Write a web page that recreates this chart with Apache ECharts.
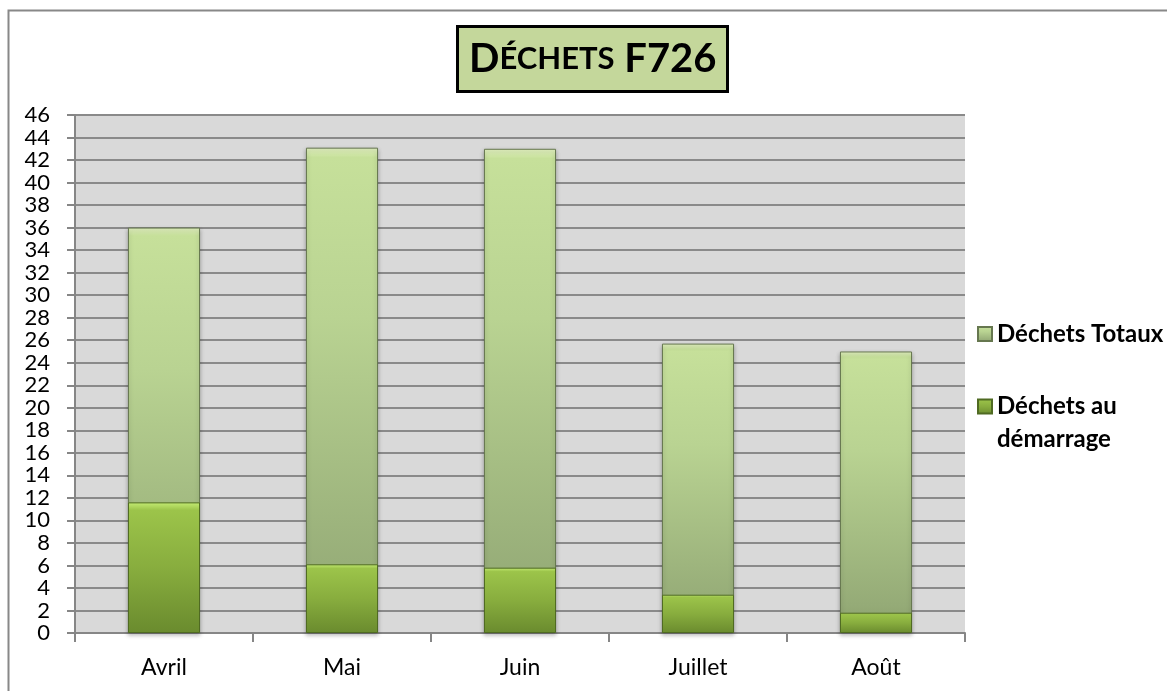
<!DOCTYPE html>
<html>
<head>
<meta charset="utf-8">
<style>
  html, body { margin: 0; padding: 0; background: #fff; }
  #chart { width: 1167px; height: 691px; }
</style>
<script src="https://cdn.jsdelivr.net/npm/echarts@6/dist/echarts.min.js"></script>
</head>
<body>
<div id="chart"></div>
<script>
// données
var months = ['Avril', 'Mai', 'Juin', 'Juillet', 'Août'];
var dechetsTotaux = [36, 43.1, 43, 25.7, 25];
var dechetsDemarrage = [11.6, 6.1, 5.8, 3.4, 1.8];

var FONT = 'Lato';

var chart = echarts.init(document.getElementById('chart'));

chart.setOption({
  animation: false,
  backgroundColor: '#fff',
  textStyle: { fontFamily: FONT },
  title: {
    text: '{a|D}{b|ÉCHETS}{a| F726}',
    left: 457,
    top: 25,
    padding: [13, 11, 13, 12],
    backgroundColor: '#c4d79b',
    borderColor: '#000',
    borderWidth: 3,
    textStyle: {
      rich: {
        a: { fontFamily: FONT, fontWeight: 'bold', fontSize: 40, color: '#000', lineHeight: 42 },
        b: { fontFamily: FONT, fontWeight: 'bold', fontSize: 31, color: '#000', lineHeight: 42 }
      }
    }
  },
  graphic: [{
    type: 'rect',
    z: -10,
    shape: { x: 8.5, y: 10.5, width: 1200, height: 700 },
    style: { fill: 'none', stroke: '#888', lineWidth: 2 }
  }],
  legend: [{
    data: ['Déchets Totaux'],
    orient: 'vertical',
    left: 972,
    top: 314,
    icon: 'rect',
    itemWidth: 14,
    itemHeight: 14,
    textStyle: { fontFamily: FONT, fontWeight: 'bold', fontSize: 24, color: '#000', lineHeight: 30 }
  }, {
    data: ['Déchets au démarrage'],
    orient: 'vertical',
    left: 972,
    top: 352,
    icon: 'rect',
    itemWidth: 14,
    itemHeight: 14,
    // ligne vide en tête pour garder l'icône en face de la première ligne
    formatter: function (name) { return '\n' + name.replace(' au ', ' au\n'); },
    textStyle: { fontFamily: FONT, fontWeight: 'bold', fontSize: 24, color: '#000', lineHeight: 33 }
  }],
  grid: {
    left: 75,
    right: 202,
    top: 115,
    bottom: 58,
    show: true,
    backgroundColor: '#d9d9d9',
    borderWidth: 0
  },
  xAxis: {
    type: 'category',
    data: months,
    axisLine: { lineStyle: { color: '#868686', width: 2 } },
    axisTick: { show: true, length: 9, lineStyle: { color: '#868686', width: 2 } },
    axisLabel: { fontFamily: FONT, fontSize: 23, color: '#000', margin: 23 }
  },
  yAxis: {
    type: 'value',
    min: 0,
    max: 46,
    interval: 2,
    axisLine: { show: true, lineStyle: { color: '#868686', width: 2 } },
    axisTick: { show: true, length: 8, lineStyle: { color: '#868686', width: 2 } },
    axisLabel: {
      fontFamily: FONT, fontSize: 22, color: '#000', margin: 25,
      hideOverlap: false
    },
    splitLine: { lineStyle: { color: '#8a8a8a', width: 2 } }
  },
  series: [{
    name: 'Déchets Totaux',
    type: 'bar',
    data: dechetsTotaux,
    barWidth: '40.5%',
    barGap: '-100%',
    itemStyle: {
      color: new echarts.graphic.LinearGradient(0, 0, 0, 1, [
        { offset: 0, color: '#e4f3c2' },
        { offset: 0.02, color: '#c6e09a' },
        { offset: 0.35, color: '#b9d392' },
        { offset: 0.9, color: '#95ab77' },
        { offset: 1, color: '#889d6c' }
      ]),
      borderColor: '#66774f',
      borderWidth: 1,
      shadowColor: 'rgba(0,0,0,0.25)',
      shadowBlur: 4,
      shadowOffsetY: 2
    }
  }, {
    name: 'Déchets au démarrage',
    type: 'bar',
    data: dechetsDemarrage,
    barWidth: '40.5%',
    barGap: '-100%',
    itemStyle: {
      color: new echarts.graphic.LinearGradient(0, 0, 0, 1, [
        { offset: 0, color: '#c4ec74' },
        { offset: 0.06, color: '#9cc44a' },
        { offset: 0.5, color: '#88ad3e' },
        { offset: 1, color: '#6a8b2e' }
      ]),
      borderColor: '#4f6a22',
      borderWidth: 1
    }
  }]
});
</script>
</body>
</html>
